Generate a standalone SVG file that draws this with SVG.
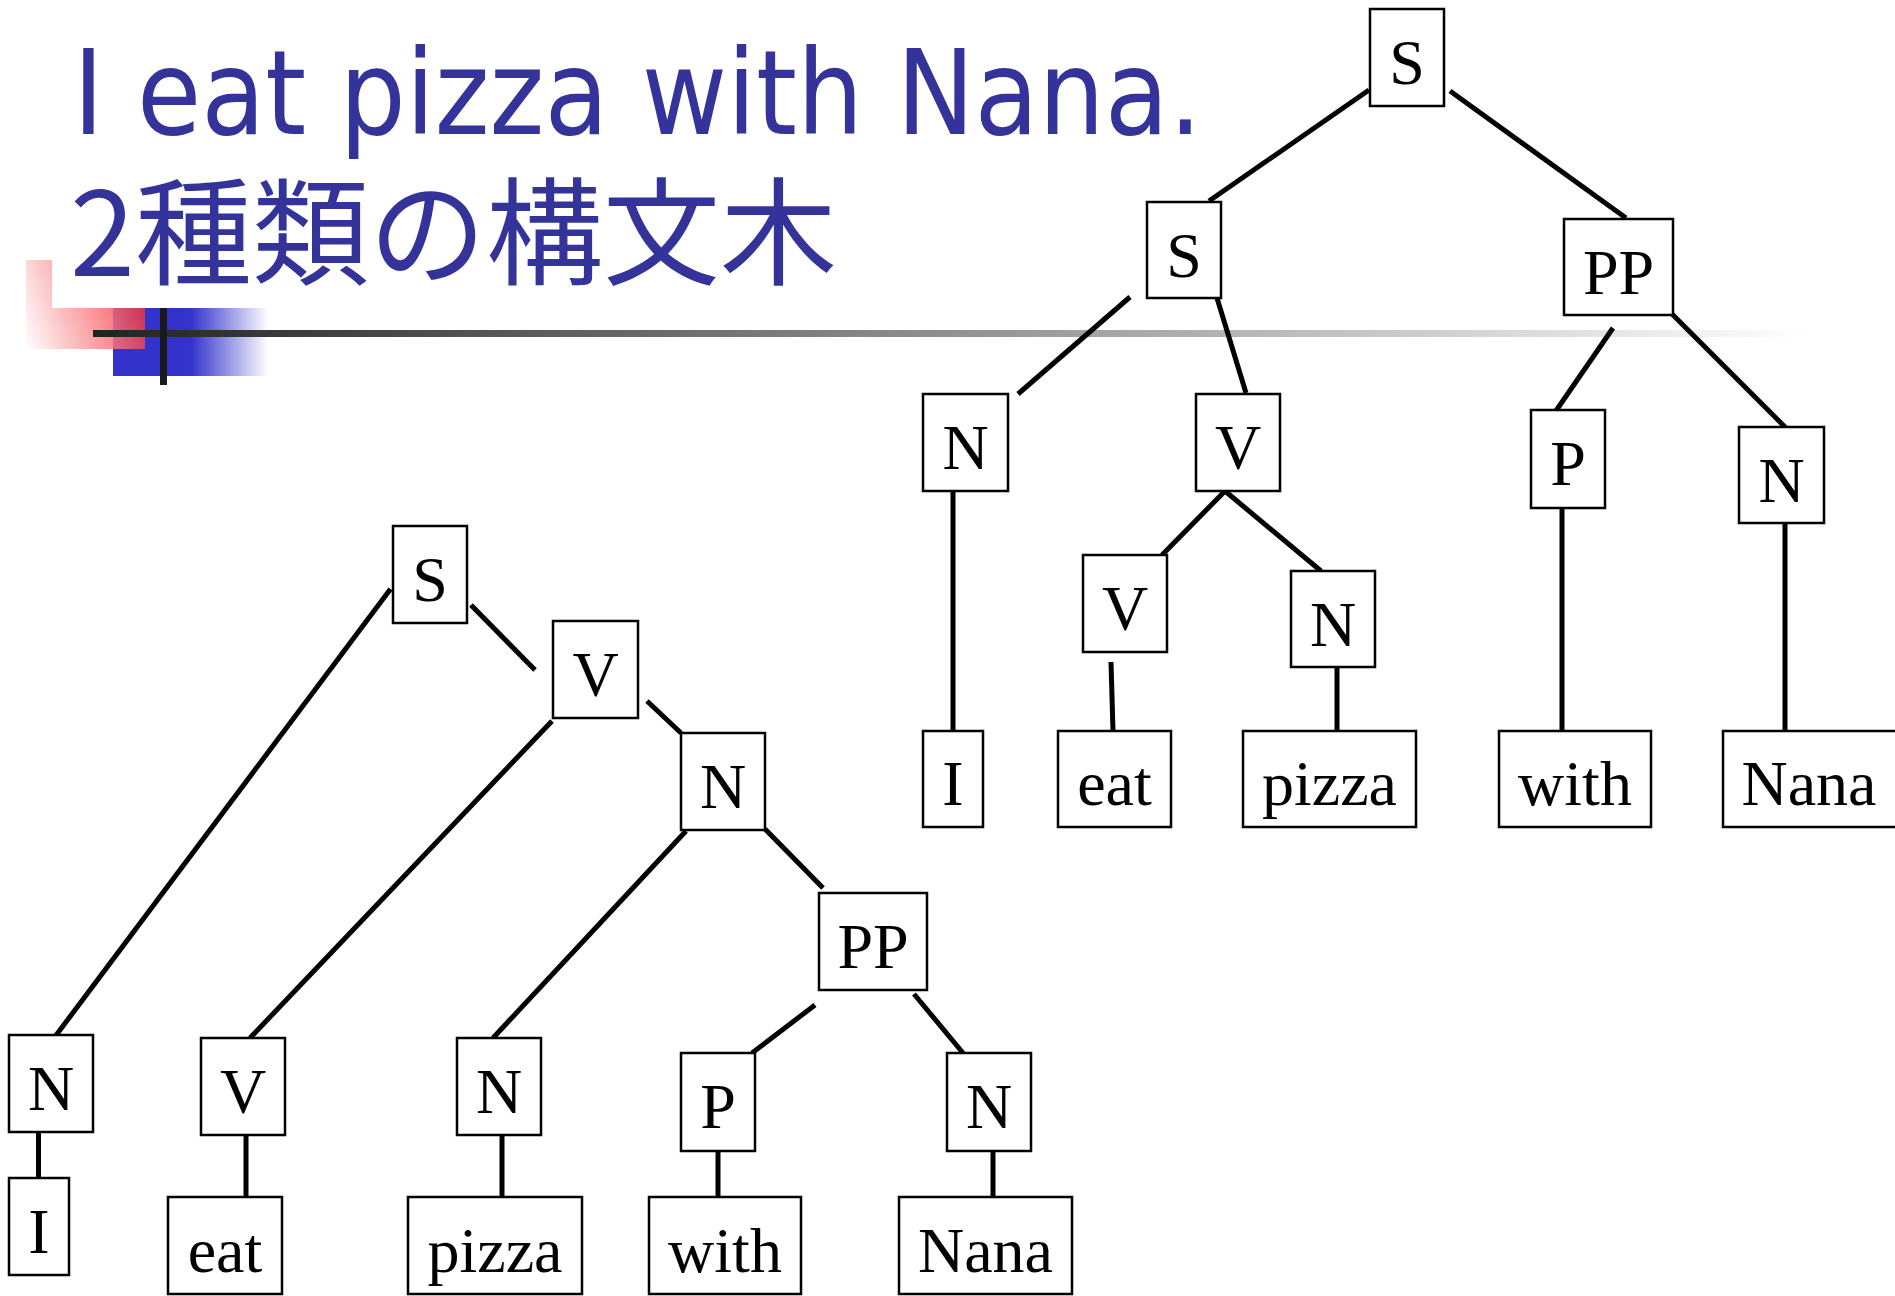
<svg xmlns="http://www.w3.org/2000/svg" width="1895" height="1296" viewBox="0 0 1895 1296">
<style>
.box{fill:#fff;stroke:#000;stroke-width:2.5}
.lbl{font-family:"Liberation Serif","Times New Roman",serif;font-size:64px;fill:#000;text-anchor:middle}
.title{font-family:"DejaVu Sans","Noto Sans CJK JP",sans-serif;fill:#333399}
#connectors line{stroke:#000;stroke-width:5}
</style>
<defs>
<linearGradient id="pink" x1="145" y1="308" x2="26" y2="349" gradientUnits="userSpaceOnUse">
<stop offset="0" stop-color="#e8333c"/>
<stop offset="0.35" stop-color="#f87a80"/>
<stop offset="1" stop-color="#ffffff"/>
</linearGradient>
<linearGradient id="bluefade" x1="0" y1="0" x2="1" y2="0">
<stop offset="0" stop-color="#3333cc"/>
<stop offset="1" stop-color="#ffffff"/>
</linearGradient>
<linearGradient id="rule" x1="93" y1="0" x2="1810" y2="0" gradientUnits="userSpaceOnUse">
<stop offset="0" stop-color="#222222"/>
<stop offset="1" stop-color="#ffffff"/>
</linearGradient>
</defs>
<rect width="1895" height="1296" fill="#fff"/>

<g id="decoration">
<rect x="113" y="308" width="78" height="68" fill="#3333cc"/>
<rect x="191" y="308" width="77" height="68" fill="url(#bluefade)"/>
<path d="M26,260 H52 V308 H145 V349 H26 Z" fill="url(#pink)" opacity="0.85"/>
<rect x="93" y="330" width="1717" height="7" fill="url(#rule)"/>
<rect x="160" y="308" width="7" height="77" fill="#1a1a1a"/>
</g>

<g id="title">
<text class="title" x="73" y="134" font-size="117" textLength="1129" lengthAdjust="spacingAndGlyphs">I eat pizza with Nana.</text>
<text class="title" x="70" y="276" font-size="117" style="font-family:'Noto Sans CJK JP','Noto Sans CJK SC',sans-serif">2種類の構文木</text>
</g>

<g id="connectors">
<line x1="1369" y1="90" x2="1209" y2="201"/>
<line x1="1450" y1="91" x2="1626" y2="218"/>
<line x1="1613" y1="328" x2="1551" y2="418"/>
<line x1="1672" y1="314" x2="1791" y2="433"/>
<line x1="1130" y1="297" x2="1018" y2="394"/>
<line x1="1217" y1="298" x2="1246" y2="393"/>
<line x1="1225" y1="491" x2="1162" y2="555"/>
<line x1="1225" y1="491" x2="1321" y2="571"/>
<line x1="953" y1="492" x2="953" y2="731"/>
<line x1="1111" y1="662" x2="1113" y2="731"/>
<line x1="1337" y1="667" x2="1337" y2="731"/>
<line x1="1562" y1="508" x2="1562" y2="731"/>
<line x1="1785" y1="523" x2="1785" y2="731"/>
<line x1="390.5" y1="589" x2="54" y2="1038"/>
<line x1="471" y1="605" x2="535" y2="670"/>
<line x1="552" y1="721" x2="250" y2="1038"/>
<line x1="647" y1="701" x2="681" y2="733"/>
<line x1="686" y1="831" x2="493" y2="1038"/>
<line x1="765" y1="829" x2="823" y2="888"/>
<line x1="815" y1="1005" x2="752" y2="1053"/>
<line x1="914" y1="994" x2="963" y2="1053"/>
<line x1="38.5" y1="1132" x2="38.5" y2="1178"/>
<line x1="246" y1="1135" x2="246" y2="1197"/>
<line x1="502" y1="1135" x2="502" y2="1197"/>
<line x1="718" y1="1151" x2="718" y2="1197"/>
<line x1="993" y1="1144" x2="993" y2="1197"/>
</g>

<g id="t1-S-root"><rect class="box" x="1370" y="9" width="74" height="97"/><text class="lbl" x="1407" y="84">S</text></g>
<g id="t1-S"><rect class="box" x="1147" y="202" width="74" height="96"/><text class="lbl" x="1184" y="277">S</text></g>
<g id="t1-PP"><rect class="box" x="1564" y="219" width="109" height="96"/><text class="lbl" x="1618.5" y="294">PP</text></g>
<g id="t1-N-I"><rect class="box" x="923" y="394" width="85" height="97"/><text class="lbl" x="965.5" y="469">N</text></g>
<g id="t1-V"><rect class="box" x="1196" y="394" width="84" height="97"/><text class="lbl" x="1238" y="469">V</text></g>
<g id="t1-P"><rect class="box" x="1531" y="410" width="74" height="98"/><text class="lbl" x="1568" y="485">P</text></g>
<g id="t1-N-Nana"><rect class="box" x="1739" y="427" width="85" height="96"/><text class="lbl" x="1781.5" y="502">N</text></g>
<g id="t1-V-eat"><rect class="box" x="1083" y="555" width="84" height="97"/><text class="lbl" x="1125" y="630">V</text></g>
<g id="t1-N-pizza"><rect class="box" x="1291" y="571" width="84" height="96"/><text class="lbl" x="1333" y="646">N</text></g>
<g id="t1-I"><rect class="box" x="923" y="731" width="60" height="96"/><text class="lbl" x="953" y="805">I</text></g>
<g id="t1-eat"><rect class="box" x="1058" y="731" width="113" height="96"/><text class="lbl" x="1114.5" y="805">eat</text></g>
<g id="t1-pizza"><rect class="box" x="1243" y="731" width="173" height="96"/><text class="lbl" x="1329.5" y="805">pizza</text></g>
<g id="t1-with"><rect class="box" x="1499" y="731" width="152" height="96"/><text class="lbl" x="1575" y="805">with</text></g>
<g id="t1-Nana"><rect class="box" x="1723" y="731" width="180" height="96"/><text class="lbl" x="1809" y="805">Nana</text></g>

<g id="t2-S"><rect class="box" x="393" y="526" width="74" height="97"/><text class="lbl" x="430" y="601">S</text></g>
<g id="t2-V"><rect class="box" x="553" y="621" width="85" height="97"/><text class="lbl" x="595.5" y="696">V</text></g>
<g id="t2-N"><rect class="box" x="681" y="733" width="84" height="97"/><text class="lbl" x="723" y="808">N</text></g>
<g id="t2-PP"><rect class="box" x="819" y="893" width="108" height="97"/><text class="lbl" x="873" y="968">PP</text></g>
<g id="t2-N-I"><rect class="box" x="9" y="1035" width="84" height="97"/><text class="lbl" x="51" y="1110">N</text></g>
<g id="t2-V-eat"><rect class="box" x="201" y="1038" width="84" height="97"/><text class="lbl" x="243" y="1113">V</text></g>
<g id="t2-N-pizza"><rect class="box" x="457" y="1038" width="84" height="97"/><text class="lbl" x="499" y="1113">N</text></g>
<g id="t2-P"><rect class="box" x="681" y="1053" width="74" height="98"/><text class="lbl" x="718" y="1128">P</text></g>
<g id="t2-N-Nana"><rect class="box" x="947" y="1053" width="84" height="98"/><text class="lbl" x="989" y="1128">N</text></g>
<g id="t2-I"><rect class="box" x="9" y="1178" width="60" height="97"/><text class="lbl" x="39" y="1253">I</text></g>
<g id="t2-eat"><rect class="box" x="168" y="1197" width="114" height="97"/><text class="lbl" x="225" y="1272">eat</text></g>
<g id="t2-pizza"><rect class="box" x="408" y="1197" width="174" height="97"/><text class="lbl" x="495" y="1272">pizza</text></g>
<g id="t2-with"><rect class="box" x="649" y="1197" width="152" height="97"/><text class="lbl" x="725" y="1272">with</text></g>
<g id="t2-Nana"><rect class="box" x="899" y="1197" width="173" height="97"/><text class="lbl" x="985.5" y="1272">Nana</text></g>
</svg>
